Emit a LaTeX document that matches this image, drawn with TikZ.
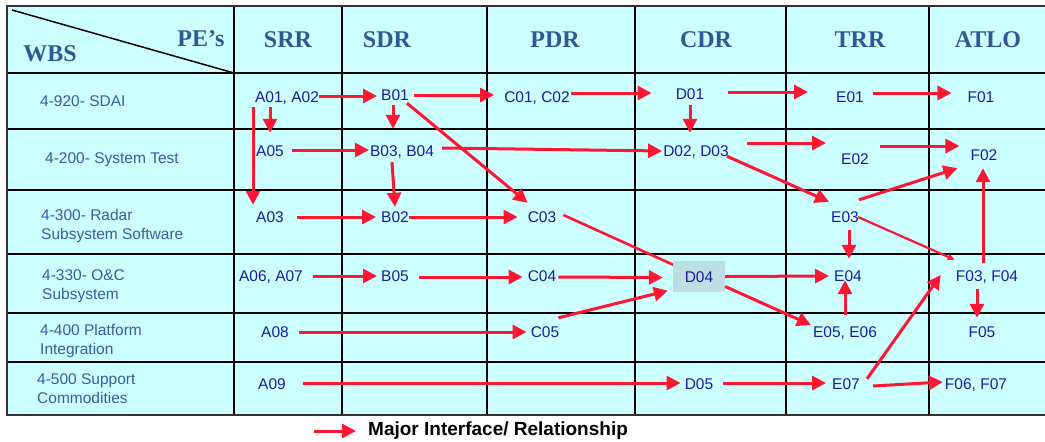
\documentclass[tikz,border=0pt]{standalone}
\usepackage{fontspec}
\setmainfont{Liberation Sans}
\newfontfamily\hdrfont{Liberation Serif}
\usetikzlibrary{arrows.meta,calc}
\definecolor{cellbg}{HTML}{CCFFFF}
\definecolor{hdrblue}{HTML}{2E5994}
\definecolor{wbsblue}{HTML}{3A5CA0}
\definecolor{itemblue}{HTML}{1A1AA6}
\definecolor{linkred}{HTML}{FF1633}
\definecolor{hilite}{HTML}{BDDFE2}

\begin{document}
\begin{tikzpicture}[x=1pt,y=-1pt,
  hdr/.style={font=\hdrfont\bfseries\fontsize{24}{28}\selectfont, text=hdrblue, inner sep=0pt},
  wbs/.style={font=\fontsize{15.5}{19}\selectfont, text=wbsblue, align=left, anchor=west, inner sep=0pt},
  item/.style={font=\fontsize{15.5}{18}\selectfont, text=itemblue, inner sep=0pt, text height=11pt, text depth=0pt},
  hibox/.style={item, fill=hilite, minimum width=52pt, minimum height=31pt},
  link/.style={draw=linkred, line width=3pt, -{Triangle[length=14pt,width=14pt]}},
  thinlink/.style={draw=linkred, line width=2.2pt, -{Triangle[length=7pt,width=6pt]}},
  plainlink/.style={draw=linkred, line width=2.6pt},
  gridline/.style={line width=1.6pt, draw=black},
  frame/.style={line width=2.4pt, draw=black!80}]

\useasboundingbox (0,0) rectangle (1045,442);

% table background and rules
\fill[cellbg] (7,6) rectangle (1045,415);
\foreach \gx in {234,342,487,635,786,929}
  \draw[gridline] (\gx,6) -- (\gx,415);
\foreach \gy in {73,129,190,254,313,362}
  \draw[gridline] (7,\gy) -- (1045,\gy);
\draw[frame] (1045,6) -- (7,6) -- (7,415) -- (1045,415);
\draw[line width=1.5pt] (12,10) -- (234,73);

% header
\node[hdr] (hwbs) at (50,54) {WBS};
\node[hdr] (hpe)  at (201,39) {PE’s};
\node[hdr] (hsrr) at (288,40) {SRR};
\node[hdr] (hsdr) at (387,40) {SDR};
\node[hdr] (hpdr) at (555,40) {PDR};
\node[hdr] (hcdr) at (706,40) {CDR};
\node[hdr] (htrr) at (860,40) {TRR};
\node[hdr] (hatlo) at (988,40) {ATLO};

% work breakdown rows
\node[wbs] (w1) at (40,101) {4-920- SDAI};
\node[wbs] (w2) at (45,160) {4-200- System Test};
\node[wbs] (w3) at (41,225.5) {4-300- Radar\\Subsystem Software};
\node[wbs] (w4) at (42,286.5) {4-330- O\&C\\Subsystem};
\node[wbs] (w5) at (40,341) {4-400 Platform\\Integration};
\node[wbs] (w6) at (37,388.5) {4-500 Support\\Commodities};

% items
\node[item] (a0102) at (287,97) {A01, A02};
\node[item] (b01)   at (395,95) {B01};
\node[item] (c0102) at (537,97) {C01, C02};
\node[item] (d01)   at (690,94) {D01};
\node[item] (e01)   at (850,97) {E01};
\node[item] (f01)   at (981,97) {F01};

\node[item] (a05)   at (270,151) {A05};
\node[item] (b0304) at (402,151) {B03, B04};
\node[item] (d0203) at (696,151) {D02, D03};
\node[item] (e02)   at (855,159) {E02};
\node[item] (f02)   at (984,155) {F02};

\node[item] (a03)   at (270,217) {A03};
\node[item] (b02)   at (395,217) {B02};
\node[item] (c03)   at (542,217) {C03};
\node[item] (e03)   at (845,217) {E03};

\node[item] (a0607) at (271,276) {A06, A07};
\node[item] (b05)   at (395,276) {B05};
\node[item] (c04)   at (542,276) {C04};
\node[item] (e04)   at (848,276) {E04};
\node[item] (f0304) at (987,276) {F03, F04};

\node[item] (a08)   at (275,332) {A08};
\node[item] (c05)   at (545,332) {C05};
\node[item] (e0506) at (845,332) {E05, E06};
\node[item] (f05)   at (982,332) {F05};

\node[item] (a09)   at (272,384) {A09};
\node[item] (d05)   at (699,384) {D05};
\node[item] (e07)   at (846,384) {E07};
\node[item] (f0607) at (976,384) {F06, F07};

% line from C03 runs under the highlighted D04 cell
\draw[plainlink] ($(c03.east)+(7,-2)$) -- (699,276.5);
\node[hibox] (d04) at (699,276.5) {D04};

% relationships
\draw[link] ($(a0102.east)+(0,-1)$) -- ($(b01.west)+(-4,1)$);
\draw[link] ($(b01.east)+(5,0)$) -- ($(c0102.west)+(-10,-2)$);
\draw[link] ($(c0102.east)+(1,-4)$) -- ($(d01.west)+(-24,-1)$);
\draw[link] ($(d01.east)+(24,-2)$) -- ($(e01.west)+(-28,-5)$);
\draw[link] ($(e01.east)+(9,-4)$) -- ($(f01.west)+(-16,-4)$);

\draw[link] ($(a0102.south)+(-17,4.5)$) -- ($(a05.north)+(0,-12.5)$);
\draw[link] ($(a0102.south)+(-34,4.5)$) -- ($(a03.north)+(-17,-6.5)$);
\draw[link] ($(a05.east)+(8,-1)$) -- ($(b0304.west)+(-1,-1)$);
\draw[link] ($(b01.south)+(-2,4.5)$) -- ($(b0304.north)+(-9,-16.5)$);
\draw[link] ($(b01.south east)+(-2,2.5)$) -- ($(c03.north west)+(0,-8.5)$);
\draw[link] ($(b0304.east)+(8,-3)$) -- ($(d0203.west)+(-1,0)$);
\draw[link] ($(b0304.south)+(-10,5.5)$) -- ($(b02.north)+(0,-4.5)$);
\draw[link] ($(a03.east)+(13,0)$) -- ($(b02.west)+(-5,0)$);
\draw[link] (b02.east) -- ($(c03.west)+(-10,0)$);

\draw[link] ($(d01.south)+(0,5.5)$) -- ($(d0203.north)+(-6,-12.5)$);
\draw[link] ($(d0203.east)+(18,-8)$) -- ($(e02.west)+(-15,-16)$);
\draw[link] ($(e02.east)+(11,-13)$) -- ($(f02.west)+(-11,-9)$);
\draw[link] ($(d0203.south east)+(-2,-0.5)$) -- ($(e03.north west)+(-2,-9.5)$);
\draw[link] ($(e03.north east)+(0,-11.5)$) -- ($(f02.south west)+(-13,7.5)$);
\draw[thinlink] ($(e03.east)+(-1,0)$) -- ($(f0304.north west)+(-1,-10.5)$);
\draw[link] ($(e03.south)+(4,7.5)$) -- ($(e04.north)+(1,-11.5)$);

\draw[link] (d04.east) -- ($(e04.west)+(-5,0)$);
\draw[link] ($(c04.east)+(2,1)$) -- ($(d04.west)+(-10,1)$);
\draw[link] ($(b05.east)+(10,1)$) -- ($(c04.west)+(-5,1)$);
\draw[link] ($(a0607.east)+(10,0)$) -- ($(b05.west)+(-4,0)$);
\draw[link] ($(c05.north east)+(-1,-8.5)$) -- ($(d04.south west)+(-5,-1.5)$);
\draw[link] ($(a08.east)+(10,0)$) -- ($(c05.west)+(-4,0)$);
\draw[link] ($(d04.east)+(0,10)$) -- ($(e0506.west)+(-2,-7)$);
\draw[link] ($(e0506.north)+(0,-11.5)$) -- ($(e04.south)+(-3,-1.5)$);
\draw[link] ($(f0304.north)+(-4,-7.5)$) -- ($(f02.south)+(-1,7.5)$);
\draw[link] ($(f0304.south)+(-10,7.5)$) -- ($(f05.north)+(-5,-8.5)$);

\draw[link] ($(a09.east)+(17,-1)$) -- ($(d05.west)+(-4,-1)$);
\draw[link] ($(d05.east)+(10,-1)$) -- ($(e07.west)+(-6,-1)$);
\draw[link] ($(e07.east)+(13,2)$) -- ($(f0607.west)+(-2,-2)$);
\draw[link] ($(e07.north east)+(7,0.5)$) -- ($(f0304.west)+(-15,-1)$);

% legend
\coordinate (legtail) at (314,431);
\node[anchor=west, inner sep=0pt, font=\bfseries\fontsize{19}{21}\selectfont] (legtext) at (368,431) {Major Interface/ Relationship};
\draw[link] (legtail) -- ($(legtext.west)+(-12,0)$);

\end{tikzpicture}
\end{document}
